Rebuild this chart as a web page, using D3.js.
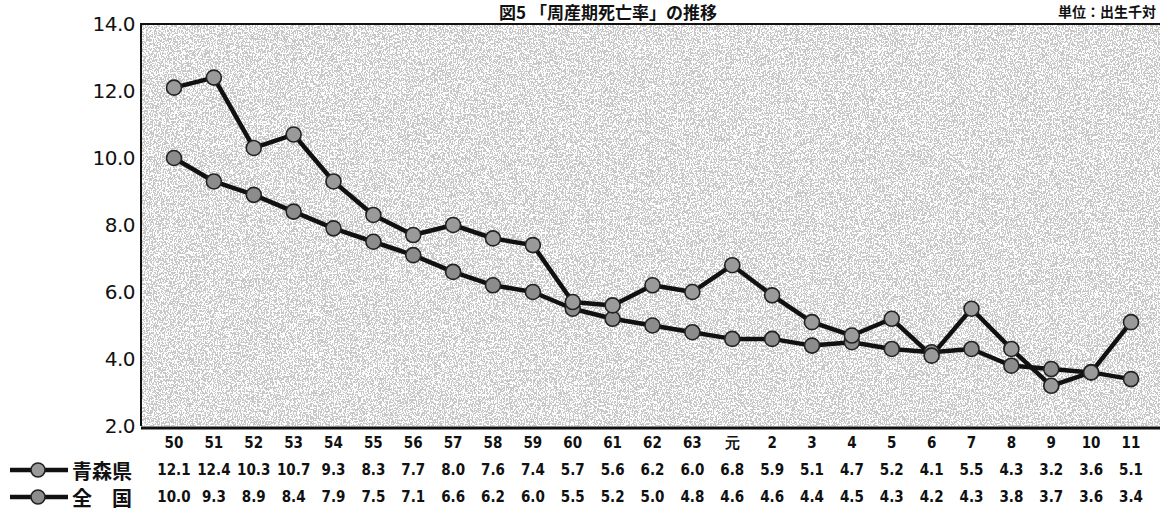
<!DOCTYPE html>
<html>
<head>
<meta charset="utf-8">
<script src="https://cdn.jsdelivr.net/npm/d3@7/dist/d3.min.js"></script>
<style>
  html, body { margin: 0; padding: 0; background: #fff; }
  svg { display: block; }
  .num { font-family: "Liberation Sans Narrow", "DejaVu Sans Condensed", "Liberation Sans", sans-serif; font-weight: bold; }
  .jp { font-family: "Noto Sans CJK JP", sans-serif; font-weight: bold; }
</style>
</head>
<body>
<svg id="chart" width="1160" height="516"></svg>
<script>
// Fiscal-year labels (昭和50〜63, 平成元〜11)
const categories = ["50","51","52","53","54","55","56","57","58","59","60","61","62","63","元","2","3","4","5","6","7","8","9","10","11"];
// 周産期死亡率（出生千対）
const aomori = [12.1,12.4,10.3,10.7,9.3,8.3,7.7,8.0,7.6,7.4,5.7,5.6,6.2,6.0,6.8,5.9,5.1,4.7,5.2,4.1,5.5,4.3,3.2,3.6,5.1];
const zenkoku = [10.0,9.3,8.9,8.4,7.9,7.5,7.1,6.6,6.2,6.0,5.5,5.2,5.0,4.8,4.6,4.6,4.4,4.5,4.3,4.2,4.3,3.8,3.7,3.6,3.4];
const yTicks = [2.0,4.0,6.0,8.0,10.0,12.0,14.0];
const seriesNames = ["青森県", "全　国"];

const svg = d3.select("#chart");
const plot = { left: 141, right: 1160, top: 24, bottom: 426 };

const x = d3.scalePoint().domain(categories).range([174, 1131]);
const y = d3.scaleLinear().domain([2, 14]).range([plot.bottom, plot.top]);

// stippled background texture
const defs = svg.append("defs");
const f = defs.append("filter").attr("id", "grain")
  .attr("x", 0).attr("y", 0).attr("width", "100%").attr("height", "100%");
f.append("feTurbulence").attr("type", "fractalNoise").attr("baseFrequency", "0.75 0.55")
  .attr("numOctaves", 2).attr("seed", 7).attr("result", "n");
f.append("feColorMatrix").attr("type", "saturate").attr("values", 0).attr("result", "g");
const ct = f.append("feComponentTransfer");
["feFuncR", "feFuncG", "feFuncB"].forEach(fn =>
  ct.append(fn).attr("type", "discrete").attr("tableValues", "0.58 0.58 0.98 0.98"));
ct.append("feFuncA").attr("type", "table").attr("tableValues", "1 1");

svg.append("rect")
  .attr("x", plot.left).attr("y", plot.top)
  .attr("width", plot.right - plot.left).attr("height", plot.bottom - plot.top)
  .attr("fill", "#c8c8c8")
  .attr("filter", "url(#grain)");

// frame
svg.append("path")
  .attr("d", `M${plot.left},${plot.bottom}V${plot.top}H${plot.right}`)
  .attr("fill", "none").attr("stroke", "#111").attr("stroke-width", 2);
svg.append("line")
  .attr("x1", plot.left).attr("x2", plot.right)
  .attr("y1", plot.bottom + 2).attr("y2", plot.bottom + 2)
  .attr("stroke", "#111").attr("stroke-width", 3);

// y axis labels
const yAxis = d3.axisLeft(y).tickValues(yTicks).tickFormat(d3.format(".1f")).tickSize(0).tickPadding(6);
const ya = svg.append("g").attr("transform", `translate(${plot.left},0)`).call(yAxis);
ya.select(".domain").remove();
ya.selectAll("text")
  .attr("font-family", "DejaVu Sans, sans-serif")
  .attr("font-size", 20).attr("fill", "#111").attr("letter-spacing", "-0.5");

// lines + markers
const line = d3.line().x((d, i) => x(categories[i])).y(d => y(d));
const series = [
  { values: zenkoku, fill: "#8c8c8c" },
  { values: aomori, fill: "#9a9a9a" }
];
series.forEach(s => {
  svg.append("path").datum(s.values)
    .attr("d", line).attr("fill", "none")
    .attr("stroke", "#111").attr("stroke-width", 4.5).attr("stroke-linejoin", "round");
});
series.forEach(s => {
  svg.append("g").selectAll("circle").data(s.values).join("circle")
    .attr("cx", (d, i) => x(categories[i])).attr("cy", d => y(d))
    .attr("r", 7.5).attr("fill", s.fill)
    .attr("stroke", "#222").attr("stroke-width", 1.6);
});

// data table under the plot
const rowY = [443, 470, 497];
const tbl = svg.append("g").attr("class", "num").attr("font-size", 15).attr("fill", "#111");
tbl.selectAll("text.cat").data(categories).join("text").attr("class", "cat")
  .attr("x", d => x(d)).attr("y", rowY[0]).attr("text-anchor", "middle")
  .attr("dominant-baseline", "central")
  .text(d => d);
[aomori, zenkoku].forEach((vals, r) => {
  tbl.append("g").selectAll("text").data(vals).join("text")
    .attr("x", (d, i) => x(categories[i])).attr("y", rowY[r + 1])
    .attr("text-anchor", "middle").attr("dominant-baseline", "central")
    .text(d => d.toFixed(1));
});

// legend symbols and row names
[0, 1].forEach(r => {
  const yy = rowY[r + 1];
  svg.append("line").attr("x1", 10).attr("x2", 68).attr("y1", yy).attr("y2", yy)
    .attr("stroke", "#111").attr("stroke-width", 4.5);
  svg.append("circle").attr("cx", 38).attr("cy", yy).attr("r", 7)
    .attr("fill", series[1 - r].fill).attr("stroke", "#222").attr("stroke-width", 1.6);
  svg.append("text").attr("class", "jp").attr("x", 72).attr("y", yy)
    .attr("dominant-baseline", "central").attr("font-size", 20).attr("fill", "#111")
    .text(seriesNames[r]);
});

// title and unit note
svg.append("text").attr("class", "jp").attr("x", 608).attr("y", 19)
  .attr("text-anchor", "middle").attr("font-size", 17).attr("fill", "#111")
  .text("図5 「周産期死亡率」の推移");
svg.append("text").attr("class", "jp").attr("x", 1156).attr("y", 17)
  .attr("text-anchor", "end").attr("font-size", 14).attr("fill", "#111")
  .text("単位：出生千対");
</script>
</body>
</html>
